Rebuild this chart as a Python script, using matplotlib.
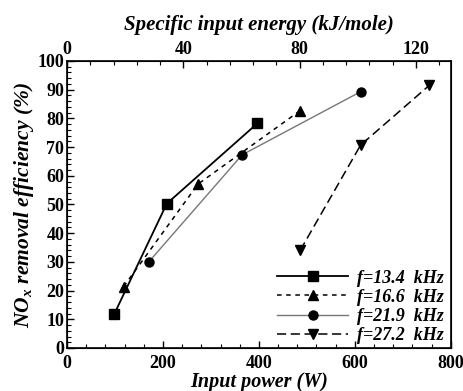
import matplotlib
matplotlib.use("Agg")
import matplotlib.pyplot as plt
from matplotlib.ticker import MultipleLocator

plt.rcParams['font.family'] = ['Liberation Serif', 'DejaVu Serif']
plt.rcParams['mathtext.fontset'] = 'custom'
plt.rcParams['mathtext.it'] = 'Liberation Serif:italic:bold'
plt.rcParams['mathtext.rm'] = 'Liberation Serif:italic:bold'
plt.rcParams['mathtext.bf'] = 'Liberation Serif:bold'

labels = ["f=13.4  kHz", "f=16.6  kHz", "f=21.9  kHz", "f=27.2  kHz"]
p_134 = [99, 208, 397]
e_134 = [12.0, 50.3, 78.3]
p_166 = [118, 273, 485]
e_166 = [21.4, 57.1, 82.6]
p_219 = [171, 365, 612]
e_219 = [30.1, 67.3, 89.3]
p_272 = [486, 612, 755]
e_272 = [34.0, 70.7, 91.5]

xticks = [0, 200, 400, 600, 800]
yticks = [0, 10, 20, 30, 40, 50, 60, 70, 80, 90, 100]
top_ticks = [0, 40, 80, 120]

fig = plt.figure(figsize=(4.63, 3.91), dpi=100)
ax = fig.add_axes([0.1447, 0.110, 0.829, 0.734])

ax.plot(p_134, e_134, color='black', ls='-', lw=1.3, marker='s', ms=7, label=labels[0])
ax.plot(p_166, e_166, color='black', ls=(0, (3, 3)), lw=1.1, marker='^', ms=6.5, label=labels[1])
ax.plot(p_219, e_219, color='#777777', ls='-', lw=1.0, marker='o', ms=6.5, mfc='black', mec='black', label=labels[2])
ax.plot(p_272, e_272, color='black', ls=(0, (6, 3)), lw=1.1, marker='v', ms=7, label=labels[3])

ax.set_xlim(0, 800)
ax.set_ylim(0, 100)
ax.set_xticks(xticks)
ax.set_yticks(yticks)
ax.xaxis.set_minor_locator(MultipleLocator(40))
ax.yaxis.set_minor_locator(MultipleLocator(2))
ax.tick_params(which='both', direction='in', top=False, right=False)
ax.tick_params(which='major', length=5, width=1)
ax.tick_params(which='minor', length=3, width=0.8)
ax.tick_params(axis='x', pad=5)
ax.tick_params(axis='y', pad=2)
for lab in ax.get_xticklabels() + ax.get_yticklabels():
    lab.set_fontweight('bold')
    lab.set_fontsize(13)
for s in ax.spines.values():
    s.set_linewidth(1.2)

ax.set_xlabel("Input power (W)", fontsize=14.5, fontweight='bold', fontstyle='italic', labelpad=0)
ax.set_ylabel("NO$_x$ removal efficiency (%)", fontsize=15.5, fontweight='bold', fontstyle='italic', labelpad=1)

ax2 = ax.twiny()
ax2.set_xlim(0, 132)
ax2.set_xticks(top_ticks)
ax2.xaxis.set_minor_locator(MultipleLocator(8))
ax2.tick_params(which='both', direction='in')
ax2.tick_params(which='major', length=5, width=1, pad=2)
ax2.tick_params(which='minor', length=3, width=0.8)
for lab in ax2.get_xticklabels():
    lab.set_fontweight('bold')
    lab.set_fontsize(13)
ax2.set_xlabel("Specific input energy (kJ/mole)", fontsize=15, fontweight='bold', fontstyle='italic', labelpad=8)

leg = ax.legend(loc='lower right', frameon=False, handlelength=3.9,
                prop={'style': 'italic', 'weight': 'bold', 'size': 13},
                labelspacing=0.12, borderaxespad=0.0, borderpad=0.3,
                handletextpad=0.5, bbox_to_anchor=(0.995, -0.005))

fig.savefig("out.png", dpi=100)
